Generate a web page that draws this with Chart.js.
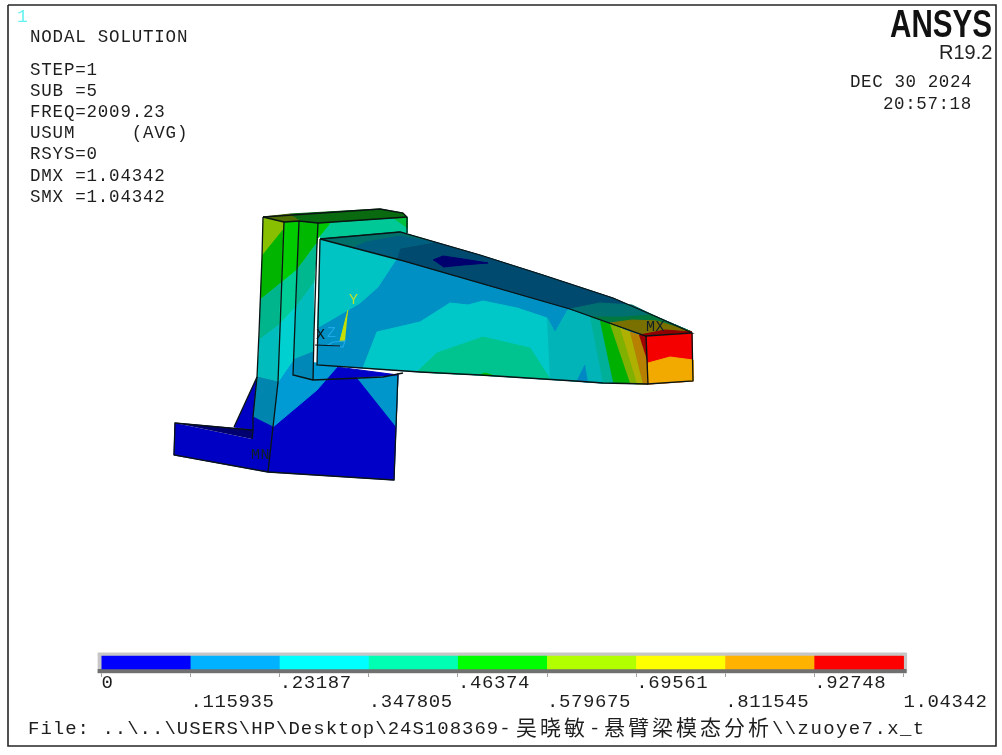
<!DOCTYPE html>
<html><head><meta charset="utf-8">
<style>html,body{margin:0;padding:0;background:#fff}canvas{display:block}</style>
<script src="https://cdn.jsdelivr.net/npm/chart.js@4"></script>
</head><body><canvas id="c" width="1002" height="755"></canvas>
<script>
// contour legend
const levels = [0,.115935,.23187,.347805,.46374,.579675,.69561,.811545,.92748,1.04342];
const levelLabels = ['0','.115935','.23187','.347805','.46374','.579675','.69561','.811545','.92748','1.04342'];
const levelColors = ['#0000ff','#00b2ff','#00ffff','#00ffb2','#00ff00','#b2ff00','#ffff00','#ffb200','#ff0000'];

// model faces, in picture coordinates
const frame = [[8,5],[996,5],[996,746],[8,746]];
const wedge = [[257,377],[253,430],[234,427]];
const flange = [[175,423],[174,455],[268,472],[273,427],[253,430],[252,439]];
const flangeTop = [[175,423],[253,430],[252,439]];
const baseBlue = [[268,472],[394,480],[398,375],[337,367],[273,427]];
const baseLeft = [[273,427],[317,390],[337,367],[316,363],[293,360],[278,382]];
const baseRight = [[357,378],[398,376],[396,427]];
const s1yg = [[263,217],[284,222],[283,230],[262,256]];
const s1g = [[262,256],[283,230],[281,283],[260,300]];
const s1t = [[260,300],[281,283],[279,325],[259,340]];
const s1c = [[259,340],[279,325],[278,382],[257,377]];
const s1lb = [[257,377],[278,382],[273,427],[253,417]];
const s1b = [[253,417],[273,427],[268,472],[252,439],[253,430]];
const s2g = [[284,222],[299,221],[297,270],[281,283]];
const s2t = [[281,283],[297,270],[296,307],[279,325]];
const s2c = [[279,325],[296,307],[293,360],[278,382]];
const s3g = [[299,221],[318,223],[317,243],[297,270]];
const s3t = [[297,270],[317,243],[314,283],[296,307]];
const s3c = [[296,307],[314,283],[313,352],[293,360]];
const s3lb = [[293,360],[313,352],[313,380],[293,375]];
const backWall = [[318,223],[407,217],[407,233],[320,239]];
const backGreenA = [[318,223],[330,223],[318,238]];
const backGreenB = [[393,218],[407,217],[407,228]];
const capOlive = [[263,217],[290,214],[300,221],[284,222]];
const capGreen = [[290,214],[380,209],[403,213],[407,217],[318,223],[300,221]];
const beamFront = [[320,239],[400,260],[570,309],[646,335],[648,384],[603,383],[575,381],[480,375],[420,372],[317,365]];
const panelCyan = [[320,239],[397,258],[378,287],[360,303],[317,328]];
const lowerCyan = [[363,368],[377,332],[420,322],[450,303],[468,305],[483,301],[517,308],[547,318],[555,333],[568,310],[590,317],[603,383],[575,381],[480,375],[420,372]];
const lowerCyanRight = [[547,318],[555,333],[568,310],[590,317],[603,383],[575,381],[550,379]];
const tealPatch = [[417,372],[437,353],[483,337],[530,348],[550,379],[480,375],[420,372]];
const greenSliver = [[480,375],[485,373],[492,375]];
const blueSpike = [[585,365],[577,381],[588,382]];
const bandTeal = [[590,317],[600,321],[613,382],[603,383]];
const bandGreen = [[600,321],[610,324],[630,383],[613,382]];
const bandYG = [[610,324],[620,328],[637,384],[630,383]];
const bandYellow = [[620,328],[630,332],[643,384],[637,384]];
const bandOrange = [[630,332],[639,335],[648,363],[648,384],[643,384]];
const bandRed = [[639,335],[647,337],[648,363]];
const beamTop = [[320,239],[400,232],[480,255],[543,275],[613,298],[657,317],[692,332],[646,336],[570,309],[400,260]];
const topTealL = [[320,239],[400,232],[433,242],[400,248],[394,258]];
const topMidL = [[353,248],[366,242],[400,236],[433,242],[400,248],[397,258]];
const topNavy = [[433,260],[443,256],[463,259],[488,263],[463,265],[443,267]];
const topTealTip = [[570,309],[600,303],[632,305],[657,317],[692,332],[646,336]];
const topGreenTip = [[591,317],[625,317],[650,315],[692,332],[646,336]];
const topOliveTip = [[610,323],[632,320],[657,321],[692,332],[646,336]];
const topRedTip = [[640,335],[665,330],[692,332],[647,337]];
const endFace = [[647,336],[692,333],[693,381],[648,384]];
const endOrange = [[648,363],[670,357],[693,360],[693,381],[648,384]];
const triadSpike = [[348,310],[340,341],[345,341]];
const triadBlue = [[333,342],[345,341],[343,347],[328,345]];
const triadBlack = [[315,345],[340,346]];

// wire edges
const edgeL1 = [[263,217],[262,257],[259,333],[257,377],[253,417],[253,430]];
const edgeL2 = [[284,222],[278,382],[273,427],[268,472]];
const edgeL3 = [[299,221],[297,270],[293,375],[313,380],[337,379],[383,377],[403,373]];
const edgeL4 = [[318,223],[317,243],[314,333],[313,380]];
const edgePanel = [[320,239],[317,365],[420,372],[480,375],[575,381],[603,383],[648,384]];
const edgeBeamTop = [[320,239],[400,260],[570,309],[646,336],[692,333],[657,317],[613,298],[543,275],[480,255],[400,232],[320,239]];
const edgeEnd = [[646,336],[648,384],[693,381],[692,333]];
const edgeCap = [[263,217],[380,209],[403,213],[407,217],[407,233]];
const edgeCap2 = [[263,217],[284,222],[299,221],[318,223],[407,217]];
const edgeBase = [[398,373],[396,427],[394,480],[268,472],[174,455],[175,423],[253,430],[252,439]];
const edgeWedge = [[257,377],[234,427]];

const faces = [
 [wedge,'#0000c4'],[flange,'#0000c4'],[flangeTop,'#00006e'],
 [baseBlue,'#0000c8'],[baseLeft,'#009ad4'],[baseRight,'#0096cc'],
 [s1yg,'#88bf00'],[s1g,'#00b400'],[s1t,'#00b48c'],[s1c,'#00bcbc'],[s1lb,'#0086ae'],[s1b,'#0000c4'],
 [s2g,'#00cc00'],[s2t,'#00cc98'],[s2c,'#00d0d0'],
 [s3g,'#00b800'],[s3t,'#00b890'],[s3c,'#00bcbc'],[s3lb,'#0088b8'],
 [backWall,'#00c896'],[backGreenA,'#00c800'],[backGreenB,'#00c040'],
 [capOlive,'#4f6e00'],[capGreen,'#0a6a10'],
 [beamFront,'#0090c4'],[panelCyan,'#00c4c4'],[lowerCyan,'#00c8c8'],[lowerCyanRight,'#00b4b8'],[tealPatch,'#00c490'],
 [greenSliver,'#00c000'],[blueSpike,'#0088c4'],
 [bandTeal,'#00b098'],[bandGreen,'#00b000'],[bandYG,'#80b000'],[bandYellow,'#b0b000'],[bandOrange,'#b88000'],[bandRed,'#a00000'],
 [beamTop,'#004a70'],[topTealL,'#00706a'],[topMidL,'#005f80'],[topNavy,'#00006e'],
 [topTealTip,'#007070'],[topGreenTip,'#007840'],[topOliveTip,'#7a7000'],[topRedTip,'#900000'],
 [endFace,'#f40000'],[endOrange,'#f2aa00'],
 [triadSpike,'#c8e000']
];
const edges = [edgeL1,edgeL2,edgeL3,edgeL4,edgePanel,edgeBeamTop,edgeEnd,edgeCap,edgeCap2,edgeBase,edgeWedge];

const pts = a => a.map(p => ({x:p[0],y:p[1]}));
const poly = (data,color,extra) => Object.assign({type:'scatter',data,showLine:true,fill:'shape',backgroundColor:color,borderColor:color,borderWidth:1,pointRadius:0,tension:0},extra||{});
const datasets = [];
// legend swatches: frame, bevel and colour cells through the legend scale
const top0=653, top1=656, bot1=670, bot0=673;
const lo=levels[0], hi=levels[levels.length-1];
const rect=(a,b,y0,y1)=>[{x:a,y:y0},{x:b,y:y0},{x:b,y:y1},{x:a,y:y1}];
datasets.push(poly(rect(lo-.005,hi+.004,top0,bot0),'#c6c6c6',{xAxisID:'xc'}));
datasets.push(poly(rect(lo-.005,hi+.004,bot1-1,bot0),'#707070',{xAxisID:'xc',borderWidth:0}));
levelColors.forEach((c,i)=>datasets.push(poly(rect(levels[i],levels[i+1],top1,bot1-1),c,{xAxisID:'xc',borderWidth:.5})));
faces.forEach(f=>datasets.push(poly(pts(f[0]),f[1])));
edges.forEach(e=>datasets.push({type:'scatter',data:pts(e),showLine:true,fill:false,borderColor:'#0a1414',borderWidth:1.3,pointRadius:0}));
datasets.push({type:'scatter',data:pts(triadBlue.concat([triadBlue[0]])),showLine:true,fill:false,borderColor:'#20a8e8',borderWidth:1.2,pointRadius:0});
datasets.push({type:'scatter',data:pts(triadBlack),showLine:true,fill:false,borderColor:'#0a1414',borderWidth:1.2,pointRadius:0});
datasets.push({type:'scatter',data:pts(frame.concat([frame[0]])),showLine:true,fill:false,borderColor:'#262626',borderWidth:1.6,pointRadius:0});
// Chart.js paints the first dataset last, so list the top-most marks first
datasets.reverse();

const MONO='"Liberation Mono"', INK='#1e1e1e';
const TEXTS = [
 ['1',17,22,`18px ${MONO}`,'#66f2f2',0],
 ['NODAL SOLUTION',30,42,`17.5px ${MONO}`,INK,.8],
 ['STEP=1',30,75,`17.5px ${MONO}`,INK,.8],
 ['SUB =5',30,96,`17.5px ${MONO}`,INK,.8],
 ['FREQ=2009.23',30,117,`17.5px ${MONO}`,INK,.8],
 ['USUM     (AVG)',30,138,`17.5px ${MONO}`,INK,.8],
 ['RSYS=0',30,159,`17.5px ${MONO}`,INK,.8],
 ['DMX =1.04342',30,181,`17.5px ${MONO}`,INK,.8],
 ['SMX =1.04342',30,202,`17.5px ${MONO}`,INK,.8],
 ['DEC 30 2024',850,87,`17.5px ${MONO}`,INK,.6],
 ['20:57:18',883,109,`17.5px ${MONO}`,INK,.6],
 ['R19.2',939,59,'20px "Liberation Sans"','#222',0],
 ['File: ..\\..\\USERS\\HP\\Desktop\\24S108369-',28,734,`19px ${MONO}`,INK,1],
 ['吴晓敏',516,735,'21px "Noto Sans CJK SC"',INK,3],
 ['-',589,734,`19px ${MONO}`,INK,0],
 ['悬臂梁模态分析',604,735,'21px "Noto Sans CJK SC"',INK,3],
 ['\\\\zuoye7.x_t',772,734,`19px ${MONO}`,INK,1.4],
 ['MN',251,459,`15px ${MONO}`,'#10202a',.5],
 ['MX',646,331,`15px ${MONO}`,'#10202a',.5],
 ['X',316,339,`15px ${MONO}`,'#0a1414',0],
 ['Z',327,337,`15px ${MONO}`,'#20a8e8',0],
 ['Y',349,304,`15px ${MONO}`,'#b8e030',0]
];

const textPlugin = {
 id:'texts',
 beforeDraw(chart){ chart.ctx.letterSpacing='.6px'; },
 afterDraw(chart){
  const c=chart.ctx; c.save();
  c.textAlign='left'; c.textBaseline='alphabetic';
  TEXTS.forEach(t=>{ c.font=t[3]; c.fillStyle=t[4]; c.letterSpacing=t[5]+'px'; c.fillText(t[0],t[1],t[2]); });
  c.letterSpacing='0px';
  c.font='bold 38px "Liberation Sans"'; c.fillStyle='#111';
  const w=c.measureText('ANSYS').width;
  c.translate(890,37); c.scale(102/w,1); c.fillText('ANSYS',0,0);
  c.restore();
 }
};

new Chart(document.getElementById('c'),{
 data:{datasets},
 options:{
  responsive:false,animation:false,devicePixelRatio:1,
  layout:{padding:0},
  plugins:{legend:{display:false},tooltip:{enabled:false},title:{display:false}},
  scales:{
   x:{type:'linear',min:0,max:1002,display:false},
   y:{type:'linear',min:0,max:755,reverse:true,display:false},
   xc:{type:'linear',axis:'x',min:-101.5/768.6,max:900.5/768.6,position:{y:673},
    afterBuildTicks(s){ s.ticks=levels.map(v=>({value:v})); },
    border:{display:false},
    grid:{drawOnChartArea:false,drawTicks:true,tickLength:4,color:'#a0a0a0'},
    ticks:{autoSkip:false,maxRotation:0,minRotation:0,align:'start',padding:-4,color:INK,
      font:{family:'"Liberation Mono"',size:19,lineHeight:1.03},
      callback(v,i){ return i%2 ? ['',levelLabels[i]] : [levelLabels[i],'']; }
    }
   }
  }
 },
 plugins:[textPlugin]
});
</script></body></html>
